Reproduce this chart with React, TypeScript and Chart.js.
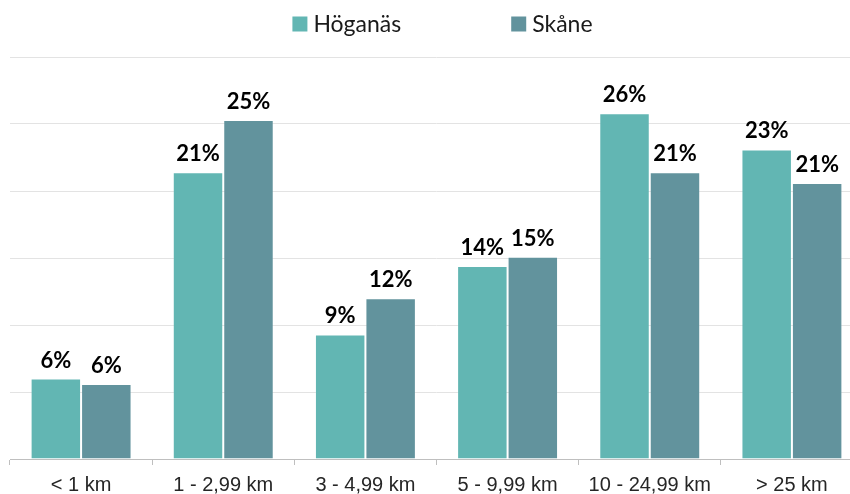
import React, { useEffect, useRef } from "react";
import { Chart, registerables } from "chart.js";

Chart.register(...registerables);

const categories = ["< 1 km", "1 - 2,99 km", "3 - 4,99 km", "5 - 9,99 km", "10 - 24,99 km", "> 25 km"];
const seriesNames = ["Höganäs", "Skåne"];
const hoganas = [6.0, 21.4, 9.3, 14.4, 25.8, 23.1];
const skane = [5.6, 25.3, 12.0, 15.1, 21.4, 20.6];
const yMin = 0;
const yMax = 30;
const yStep = 5;

const colorH = "rgb(98,182,179)";
const colorS = "rgb(98,147,157)";

const valueLabelPlugin = {
  id: "valueLabels",
  afterDatasetsDraw(chart: any) {
    const ctx = chart.ctx;
    ctx.save();
    ctx.font = "bold 22px Lato";
    ctx.fillStyle = "#000";
    ctx.textAlign = "center";
    ctx.textBaseline = "alphabetic";
    chart.data.datasets.forEach((ds: any, di: number) => {
      const meta = chart.getDatasetMeta(di);
      meta.data.forEach((bar: any, i: number) => {
        const v = ds.data[i];
        ctx.fillText(Math.round(v) + "%", bar.x, bar.y - 11);
      });
    });
    ctx.restore();
  },
};

const legendPlugin = {
  id: "topLegend",
  afterDraw(chart: any) {
    const ctx = chart.ctx;
    ctx.save();
    ctx.font = "23px Lato";
    const box = 15;
    const gap = 6;
    const itemGap = 110;
    const items = chart.data.datasets.map((ds: any) => ({
      label: ds.label,
      color: ds.backgroundColor,
      w: ctx.measureText(ds.label).width,
    }));
    const total =
      items.reduce((s: number, it: any) => s + box + gap + it.w, 0) + itemGap * (items.length - 1);
    let x = 442.5 - total / 2;
    const cy = 24;
    items.forEach((it: any) => {
      ctx.fillStyle = it.color;
      ctx.fillRect(x, cy - 7.5, box, box);
      x += box + gap;
      ctx.fillStyle = "#1a1a1a";
      ctx.textBaseline = "middle";
      ctx.textAlign = "left";
      ctx.fillText(it.label, x, cy + 1);
      x += it.w + itemGap;
    });
    ctx.restore();
  },
};

export default function App() {
  const ref = useRef<HTMLCanvasElement | null>(null);

  useEffect(() => {
    if (!ref.current) return;
    const chart = new Chart(ref.current, {
      type: "bar",
      data: {
        labels: categories,
        datasets: [
          {
            label: seriesNames[0],
            data: hoganas,
            backgroundColor: colorH,
            borderColor: "rgba(255,255,255,0.15)",
            borderWidth: 1,
            barPercentage: 1,
            categoryPercentage: 0.71,
          },
          {
            label: seriesNames[1],
            data: skane,
            backgroundColor: colorS,
            borderColor: "rgba(255,255,255,0.15)",
            borderWidth: 1,
            barPercentage: 1,
            categoryPercentage: 0.71,
          },
        ],
      },
      options: {
        responsive: false,
        animation: false,
        layout: { padding: { top: 57, left: 10, right: 7, bottom: 0 } },
        plugins: {
          legend: { display: false },
          tooltip: { enabled: false },
        },
        scales: {
          x: {
            grid: {
              display: true,
              drawOnChartArea: false,
              drawTicks: true,
              tickLength: 6,
              color: "#bfbfbf",
              offset: true,
            },
            border: { color: "#bfbfbf", width: 1 },
            ticks: {
              font: { family: "'Liberation Sans', Arial, sans-serif", size: 20, lineHeight: 1 },
              color: "#262626",
              padding: 10,
              maxRotation: 0,
              autoSkip: false,
            },
          },
          y: {
            min: yMin,
            max: yMax,
            ticks: { stepSize: yStep, display: false },
            grid: { color: "#e3e3e3", drawTicks: false },
            border: { display: false },
          },
        },
      },
      plugins: [valueLabelPlugin, legendPlugin],
    });
    return () => chart.destroy();
  }, []);

  return (
    <div
      style={{
        position: "absolute",
        left: 0,
        top: 0,
        width: 850,
        height: 494,
        overflow: "hidden",
        background: "#fff",
      }}
    >
      <canvas ref={ref} width={870} height={505} style={{ display: "block" }} />
    </div>
  );
}
